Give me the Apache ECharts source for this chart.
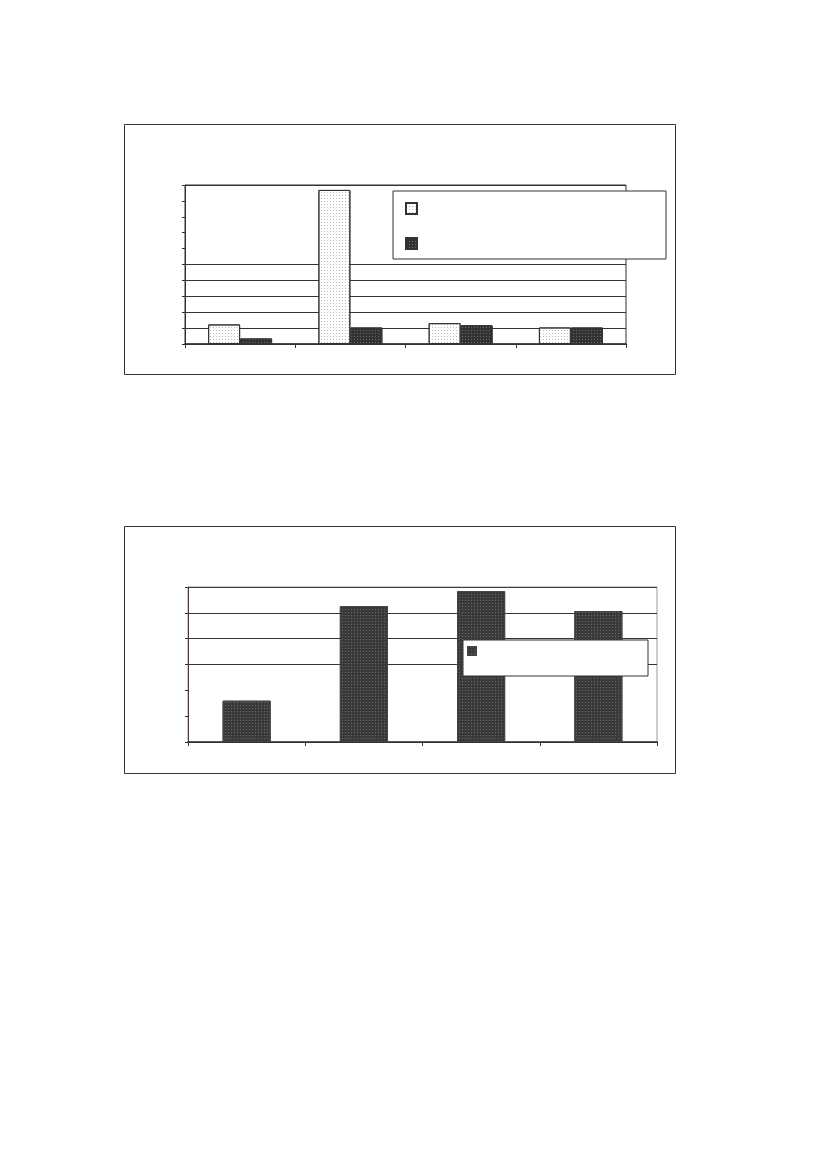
<!DOCTYPE html>
<html>
<head>
<meta charset="utf-8">
<script src="https://cdn.jsdelivr.net/npm/echarts@6/dist/echarts.min.js"></script>
<style>
  html, body { margin: 0; padding: 0; background: #fff; }
  #main { width: 826px; height: 1169px; }
</style>
</head>
<body>
<div id="main"></div>
<script>
// data (units = axis ticks, no labels shown)
var categories = ['1', '2', '3', '4'];
var topLight = [1.23, 9.69, 1.31, 1.04];
var topDark = [0.35, 1.04, 1.18, 1.04];
var bottomDark = [1.60, 5.26, 5.84, 5.07];
var topTicks = [0, 10, 1];     // min, max, interval
var bottomTicks = [0, 6, 1];

var chart = echarts.init(document.getElementById('main'), null, { renderer: 'canvas' });

var lightDots = { symbol: 'rect', symbolSize: 1, dashArrayX: [1, 2], dashArrayY: [1, 2], color: '#b8b8b8' };
var darkDots = { symbol: 'rect', symbolSize: 1, dashArrayX: [1, 2], dashArrayY: [1, 2], color: '#6a6a6a' };

// gridline colours, one per tick from min upward
var topGrid = ['#333', '#333', '#333', '#333', '#333', '#333', 'rgba(0,0,0,0)', 'rgba(0,0,0,0)', 'rgba(0,0,0,0)', 'rgba(0,0,0,0)', '#333'];
var bottomGrid = ['#333', 'rgba(0,0,0,0)', 'rgba(0,0,0,0)', '#333', '#333', '#333', '#4a3a3a'];

function valueAxis(idx, ticks, colors, lineColor) {
    return {
        type: 'value', gridIndex: idx,
        min: ticks[0], max: ticks[1], interval: ticks[2],
        axisLine: { show: true, lineStyle: { color: lineColor, width: 1 } },
        axisTick: { show: true, length: 3, lineStyle: { color: '#333' } },
        axisLabel: { show: false },
        splitLine: { show: true, lineStyle: { color: colors, width: 1 } }
    };
}
function catAxis(idx) {
    return {
        type: 'category', gridIndex: idx, data: categories,
        axisLine: { show: true, lineStyle: { color: '#333', width: 1.5 } },
        axisTick: { show: true, length: 4, interval: 0, lineStyle: { color: '#333' } },
        axisLabel: { show: false }
    };
}

var option = {
    animation: false,
    backgroundColor: '#fff',
    graphic: [
        { type: 'rect', shape: { x: 124.5, y: 124.5, width: 551, height: 250 }, style: { fill: 'none', stroke: '#333', lineWidth: 1 }, z: -1 },
        { type: 'rect', shape: { x: 124.5, y: 526.5, width: 551, height: 247 }, style: { fill: 'none', stroke: '#333', lineWidth: 1 }, z: -1 }
    ],
    grid: [
        { left: 185, top: 185, width: 441, height: 159, show: true, borderColor: '#333', borderWidth: 1 },
        { left: 188, top: 587, width: 469, height: 155, show: true, borderColor: '#999', borderWidth: 1 }
    ],
    xAxis: [catAxis(0), catAxis(1)],
    yAxis: [valueAxis(0, topTicks, topGrid, '#333'), valueAxis(1, bottomTicks, bottomGrid, '#4a3a3a')],
    legend: [
        {
            orient: 'vertical', left: 393, top: 191,
            data: ['A', 'B'],
            icon: 'rect', itemWidth: 11, itemHeight: 11, itemGap: 22,
            padding: [11, 244, 9, 12],
            textStyle: { fontSize: 1, lineHeight: 1 },
            backgroundColor: '#fff', borderColor: '#333', borderWidth: 1,
            formatter: function () { return ''; }
        },
        {
            orient: 'vertical', left: 463, top: 640,
            data: ['C'],
            icon: 'rect', itemWidth: 8, itemHeight: 8,
            padding: [6, 167, 20, 4],
            textStyle: { fontSize: 1, lineHeight: 1 },
            backgroundColor: '#fff', borderColor: '#333', borderWidth: 1,
            formatter: function () { return ''; }
        }
    ],
    series: [
        {
            name: 'A', type: 'bar', xAxisIndex: 0, yAxisIndex: 0, data: topLight,
            barGap: '0%', barCategoryGap: '42%',
            itemStyle: { color: '#fff', borderColor: '#333', borderWidth: 1, decal: lightDots }
        },
        {
            name: 'B', type: 'bar', xAxisIndex: 0, yAxisIndex: 0, data: topDark,
            barGap: '0%', barCategoryGap: '42%',
            itemStyle: { color: '#333', borderColor: '#333', borderWidth: 1, decal: darkDots }
        },
        {
            name: 'C', type: 'bar', xAxisIndex: 1, yAxisIndex: 1, data: bottomDark,
            barCategoryGap: '59%',
            itemStyle: { color: '#3a3a3a', borderColor: '#444', borderWidth: 1, decal: darkDots }
        }
    ]
};
chart.setOption(option);
</script>
</body>
</html>
